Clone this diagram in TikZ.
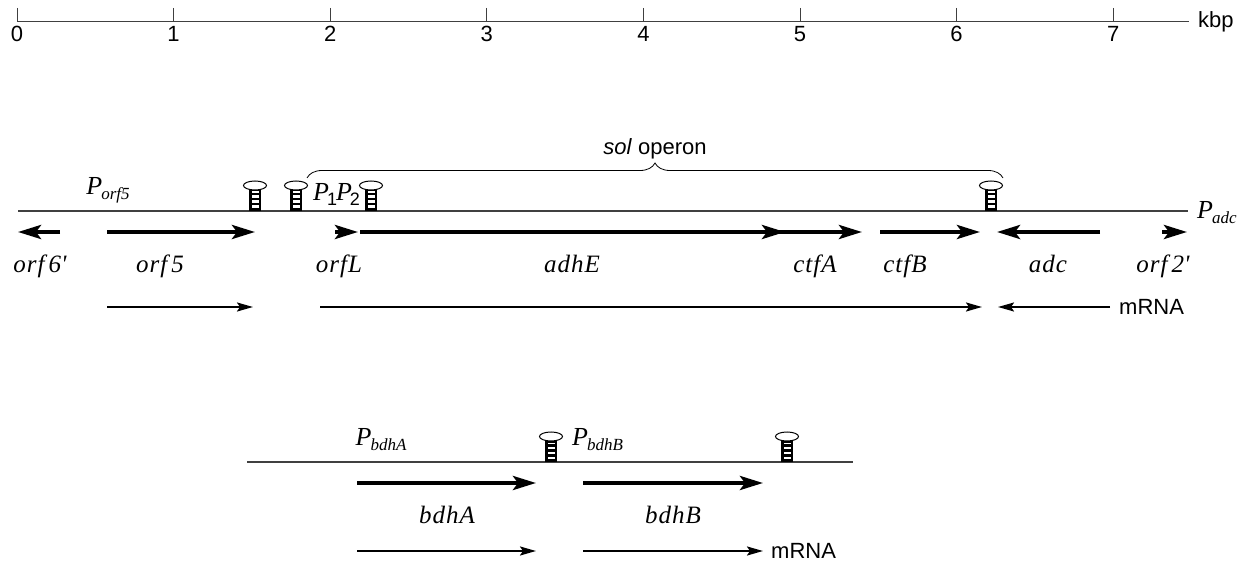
\documentclass[tikz,border=0pt]{standalone}
\usepackage{fontspec}
\setmainfont{Liberation Serif}
\setsansfont{Liberation Sans}
\newfontfamily\genefont[LetterSpace=4]{Liberation Serif}
\usetikzlibrary{arrows.meta,decorations.pathreplacing}
\tikzset{
  dna/.style={line width=1.5pt, draw=black!75},
  gene/.style={line width=4pt, -{Stealth[length=23pt,width=14pt,inset=5pt]}},
  mrna/.style={line width=2pt, -{Stealth[length=16pt,width=9pt,inset=3pt]}},
  glabel/.style={font=\genefont\itshape\fontsize{25}{25}\selectfont, anchor=base, inner sep=0pt},
  slabel/.style={font=\sffamily\fontsize{22}{22}\selectfont, inner sep=0pt},
  plabel/.style={font=\fontsize{26}{26}\selectfont\itshape, inner sep=0pt},
  tick/.style={line width=1pt, draw=black!75},
}
\newcommand\hairpin[2]{%
  \fill (#1-6,#2) rectangle (#1+6,#2-21);
  \fill[white] (#1-3.5,#2-3) rectangle (#1+3.5,#2-5.5);
  \fill[white] (#1-3.5,#2-8) rectangle (#1+3.5,#2-10.5);
  \fill[white] (#1-3.5,#2-13) rectangle (#1+3.5,#2-15.5);
  \fill[white] (#1-3.5,#2-18) rectangle (#1+3.5,#2-19.5);
  \draw[line width=1pt, fill=white] (#1,#2-25.5) ellipse [x radius=11.5, y radius=4.5];
}
\newcommand\Psub[1]{\textit{P}\kern-1pt\raisebox{-5pt}{\fontsize{17}{17}\selectfont\itshape #1}}
\newcommand\Pnum[1]{\textit{P}\kern-2pt\raisebox{-5pt}{\sffamily\upshape\fontsize{18}{18}\selectfont #1}}
\begin{document}
\begin{tikzpicture}[x=1pt,y=-1pt]
\useasboundingbox (0,0) rectangle (1242,561);
% ruler
\draw[tick] (17,22) -- (1189,22);
\foreach \k in {0,...,7}{
  \draw[tick] ({17+156.6*\k},8) -- ({17+156.6*\k},22);
  \node[slabel] (r\k) at ({17+156.6*\k},34) {\k};
}
\node[slabel, anchor=west] (kbp) at (1198,22) {kbp};

% main locus
\draw[dna] (18,211) -- (1188,211);
\node[plabel] (porf5) at (108,190) {\Psub{orf5}};
\node[plabel, anchor=west] (padc) at (1197,213) {\Psub{adc}};
\node[plabel, anchor=west] (p12) at (313,194) {\Pnum{1}\kern-1pt\Pnum{2}};
\hairpin{255}{211}
\hairpin{296}{211}
\hairpin{371}{211}
\hairpin{991}{211}
\draw[line width=0.8pt, decorate, decoration={brace, amplitude=15pt}] (307,178) -- (1003,178);
\node[slabel] (sol) at (655,149) {\textit{sol} operon};

% genes
\draw[gene] (60,232) -- (18,232);
\draw[gene] (107,232) -- (255,232);
\draw[gene] (335,232) -- (358,232);
\draw[gene] (360,232) -- (785,232);
\draw[gene] (772,232) -- (862,232);
\draw[gene] (880,232) -- (980,232);
\draw[gene] (1100,232) -- (997,232);
\draw[gene] (1162,232) -- (1187,232);
\node[glabel] (g1) at (40,273) {orf\,6\textquotesingle};
\node[glabel] (g2) at (160,273) {orf\,5};
\node[glabel] (g3) at (339,273) {orfL};
\node[glabel] (g4) at (572,273) {adhE};
\node[glabel] (g5) at (815,273) {ctfA};
\node[glabel] (g6) at (905,273) {ctfB};
\node[glabel] (g7) at (1048,273) {adc};
\node[glabel] (g8) at (1163,273) {orf\,2\textquotesingle};

% mRNA
\draw[mrna] (107,307) -- (253,307);
\draw[mrna] (320,307) -- (982,307);
\draw[mrna] (1110,307) -- (998,307);
\node[slabel, anchor=west] (m1) at (1119,307) {mRNA};

% bdh locus
\draw[dna] (247,462) -- (853,462);
\node[plabel] (pbdhA) at (381,440) {\Psub{bdhA}};
\node[plabel, anchor=west] (pbdhB) at (572,440) {\Psub{bdhB}};
\hairpin{551}{462}
\hairpin{787}{462}
\draw[gene] (357,483) -- (536,483);
\draw[gene] (583,483) -- (763,483);
\node[glabel] (g9) at (447,523) {bdhA};
\node[glabel] (g10) at (673,523) {bdhB};
\draw[mrna] (357,551) -- (536,551);
\draw[mrna] (583,551) -- (763,551);
\node[slabel, anchor=west] (m2) at (771,551) {mRNA};
\end{tikzpicture}
\end{document}
